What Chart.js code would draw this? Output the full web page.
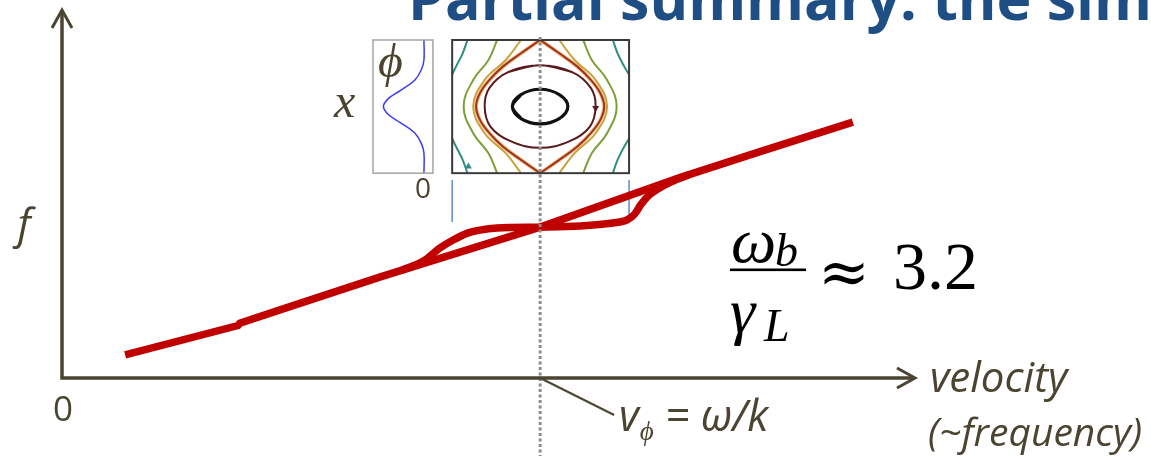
<!DOCTYPE html>
<html>
<head>
<meta charset="utf-8">
<script src="https://cdn.jsdelivr.net/npm/chart.js@4.4.1/dist/chart.umd.min.js"></script>
<style>
  html, body { margin: 0; padding: 0; background: #fff; }
  #wrap { width: 1151px; height: 456px; position: relative; }
</style>
</head>
<body>
<div id="wrap"><canvas id="dist"></canvas></div>
<script>
// f(v) flattened around the phase velocity, with the trapped-orbit inset above it

const V_PHI = 5.0;
const V_MAX = 8.92;
const F_MAX = 12.27;
const TRAP = [4.08, 5.93];        // trapping width in v (inset box edges)
const INSET_F = [6.83, 11.27];    // inset box bottom/top on the f axis
const PHI_BOX = [-1.245, 0.22];   // potential box, phi units

// main distribution: straight slope and the plateau branch
const lineV = [0.66, 1.84, 1.86, 2.28, 3.33, 5.00, 6.46, 7.30, 8.27];
const lineF = [0.77, 1.75, 1.83, 2.27, 3.37, 5.03, 6.68, 7.55, 8.53];
const plateauV = [3.55, 3.78, 3.95, 4.09, 4.24, 4.37, 4.55, 5.00, 5.42, 5.76, 5.91, 5.99, 6.05, 6.13, 6.23, 6.36, 6.55];
const plateauF = [3.59, 3.90, 4.33, 4.60, 4.83, 4.93, 5.00, 5.03, 5.07, 5.17, 5.27, 5.47, 5.77, 6.07, 6.30, 6.52, 6.77];

// potential phi(x) over one wavelength
const phiVals = [0, 0, -0.06, -0.22, -0.58, -0.87, -0.99, -0.87, -0.58, -0.22, -0.06, 0, 0];
const phiPos = [1.0, 0.85, 0.78, 0.70, 0.62, 0.56, 0.50, 0.44, 0.38, 0.30, 0.22, 0.15, 0.0];

// phase-space orbits (v, position)
const deepV = [4.80, 4.71, 4.80, 5.00, 5.20, 5.29, 5.20, 5.00, 4.80, 4.71, 4.80];
const deepP = [0.41, 0.50, 0.59, 0.63, 0.59, 0.50, 0.41, 0.37, 0.41, 0.50, 0.59];
const trapV = [4.67, 5.00, 5.33, 5.53, 5.58, 5.52, 5.31, 5.00, 4.69, 4.48, 4.42, 4.47, 4.67, 5.00, 5.33];
const trapP = [0.76, 0.81, 0.76, 0.64, 0.50, 0.35, 0.24, 0.19, 0.24, 0.35, 0.50, 0.64, 0.76, 0.81, 0.76];
const sepP = [1.0, 0.9, 0.8, 0.7, 0.6, 0.5, 0.4, 0.3, 0.2, 0.1, 0.0];
const sepRightV = [5.00, 5.20, 5.39, 5.53, 5.63, 5.67, 5.63, 5.53, 5.39, 5.20, 5.00];
const sepLeftV = [5.00, 4.80, 4.61, 4.47, 4.37, 4.33, 4.37, 4.47, 4.61, 4.80, 5.00];
const passP = [1.0, 0.85, 0.7, 0.5, 0.3, 0.15, 0.0];
const nearLeftV = [4.80, 4.64, 4.42, 4.30, 4.42, 4.64, 4.80];
const nearRightV = [5.20, 5.36, 5.58, 5.70, 5.58, 5.36, 5.20];
const midLeftV = [4.55, 4.46, 4.30, 4.20, 4.30, 4.46, 4.55];
const midRightV = [5.45, 5.54, 5.70, 5.80, 5.70, 5.54, 5.45];
const farTopP = [1.0, 0.9, 0.8, 0.74];
const farBotP = [0.26, 0.2, 0.1, 0.0];
const farLeftTopV = [4.24, 4.19, 4.12, 4.08];
const farLeftBotV = [4.08, 4.12, 4.19, 4.24];
const farRightTopV = [5.76, 5.81, 5.88, 5.93];
const farRightBotV = [5.93, 5.88, 5.81, 5.76];

const pts = (xs, ys) => xs.map((v, i) => ({ x: v, y: ys[i] }));

function orbit(xs, ys, color, width) {
  return {
    data: pts(xs, ys), showLine: true, borderColor: color, borderWidth: width,
    yAxisID: 'yPos', pointRadius: 0, tension: 0.4
  };
}

const teal = '#2f8c80', green = '#7d9f38', amber = '#c9a23c';

// first dataset ends up on top
const datasets = [
  { data: pts(lineV, lineF), showLine: true, borderColor: '#c00000', borderWidth: 7.5,
    pointRadius: 0, tension: 0, borderCapStyle: 'butt' },
  { data: pts(plateauV, plateauF), showLine: true, borderColor: '#c00000', borderWidth: 7.5,
    pointRadius: 0, cubicInterpolationMode: 'monotone', borderCapStyle: 'butt' },
  { data: [{ x: TRAP[0], y: 6.6 }, { x: TRAP[0], y: 5.2 }], showLine: true,
    borderColor: '#5b8ccc', borderWidth: 1.5, pointRadius: 0 },
  { data: [{ x: TRAP[1], y: 6.6 }, { x: TRAP[1], y: 5.43 }], showLine: true,
    borderColor: '#5b8ccc', borderWidth: 1.5, pointRadius: 0 },
  { data: pts(phiVals, phiPos), showLine: true, borderColor: '#3b3bf2', borderWidth: 1.5,
    xAxisID: 'xPhi', yAxisID: 'yPos', pointRadius: 0, tension: 0.4 },
  { data: [{ x: 5.58, y: 0.49 }], yAxisID: 'yPos', pointStyle: 'triangle', rotation: 180,
    pointRadius: 4, backgroundColor: '#5a1a1c', borderWidth: 0 },
  { data: [{ x: 4.25, y: 0.05 }], yAxisID: 'yPos', pointStyle: 'triangle', rotation: 0,
    pointRadius: 4, backgroundColor: teal, borderWidth: 0 },
  orbit(deepV, deepP, '#111111', 3.2),
  orbit(trapV, trapP, '#5a1a1c', 2),
  orbit(sepRightV, sepP, '#a3321a', 2),
  orbit(sepLeftV, sepP, '#a3321a', 2),
  orbit(sepRightV, sepP, 'rgba(222,150,60,0.6)', 4),
  orbit(sepLeftV, sepP, 'rgba(222,150,60,0.6)', 4),
  orbit(nearLeftV, passP, amber, 2),
  orbit(nearRightV, passP, amber, 2),
  orbit(midLeftV, passP, green, 2),
  orbit(midRightV, passP, green, 2),
  orbit(farLeftTopV, farTopP, teal, 2),
  orbit(farLeftBotV, farBotP, teal, 2),
  orbit(farRightTopV, farTopP, teal, 2),
  orbit(farRightBotV, farBotP, teal, 2)
];

// scale ranges that put the inset in place over the main axes
const fSpan = INSET_F[1] - INSET_F[0];
const posMin = -INSET_F[0] / fSpan;
const posMax = (F_MAX - INSET_F[0]) / fSpan;
const phiZeroV = 3.785, phiUnitV = 0.428;
const phiMin = -phiZeroV / phiUnitV;
const phiMax = (V_MAX - phiZeroV) / phiUnitV;

const ink = '#4a4431';
const serif = '"Liberation Serif", "DejaVu Serif"';

const annotate = {
  id: 'annotate',
  afterDatasetsDraw(chart) {
    const { ctx, chartArea: area } = chart;
    const { x, y, xPhi, yPos } = chart.scales;
    ctx.save();

    // inset frames
    const top = yPos.getPixelForValue(1), bot = yPos.getPixelForValue(0);
    const pl = xPhi.getPixelForValue(PHI_BOX[0]), pr = xPhi.getPixelForValue(PHI_BOX[1]);
    ctx.lineWidth = 1.5; ctx.strokeStyle = '#a4a4a4';
    ctx.strokeRect(pl, top, pr - pl, bot - top);
    const bl = x.getPixelForValue(TRAP[0]), br = x.getPixelForValue(TRAP[1]);
    ctx.lineWidth = 2; ctx.strokeStyle = '#3a3a3a';
    ctx.strokeRect(bl, top, br - bl, bot - top);

    // dotted marker at the phase velocity
    const xp = x.getPixelForValue(V_PHI);
    ctx.setLineDash([3, 2.5]); ctx.lineWidth = 3; ctx.strokeStyle = '#8c8c8c';
    ctx.beginPath(); ctx.moveTo(xp, top - 3); ctx.lineTo(xp, chart.height); ctx.stroke();
    ctx.setLineDash([]);

    // axes with open arrow heads
    const x0 = x.getPixelForValue(0), y0 = y.getPixelForValue(0);
    ctx.strokeStyle = ink; ctx.lineWidth = 3.5;
    ctx.beginPath();
    ctx.moveTo(x0, area.top + 1); ctx.lineTo(x0, y0 + 1.7);
    ctx.moveTo(x0 - 1.7, y0); ctx.lineTo(area.right - 1, y0);
    ctx.stroke();
    ctx.lineWidth = 3;
    ctx.beginPath();
    ctx.moveTo(x0 - 10, area.top + 18); ctx.lineTo(x0, area.top); ctx.lineTo(x0 + 10, area.top + 18);
    ctx.moveTo(area.right - 18, y0 - 10); ctx.lineTo(area.right, y0); ctx.lineTo(area.right - 18, y0 + 10);
    ctx.stroke();

    // leader to the v_phi label
    ctx.lineWidth = 2;
    ctx.beginPath(); ctx.moveTo(xp, y0); ctx.lineTo(xp + 74, y0 + 37); ctx.stroke();

    // title
    ctx.fillStyle = '#1f4e85';
    ctx.font = 'bold 59px "Open Sans"';
    ctx.textAlign = 'left'; ctx.textBaseline = 'alphabetic';
    ctx.fillText('Partial summary: the simulation', 408, 20);

    // axis labels
    ctx.fillStyle = ink;
    ctx.textAlign = 'center';
    ctx.font = '35px "Open Sans"';
    ctx.fillText('0', x0 + 1, 421);
    ctx.font = 'italic 42px "Open Sans"';
    ctx.fillText('f', 24, 239);
    ctx.textAlign = 'left';
    ctx.font = 'italic 42px "Open Sans"';
    ctx.fillText('velocity', 930, 392);
    ctx.font = 'italic 39px "Open Sans"';
    ctx.fillText('(~frequency)', 928, 446);

    // v_phi = omega/k
    let tx = 619;
    ctx.font = 'italic 43px "Open Sans"';
    ctx.fillText('v', tx, 431);
    tx += ctx.measureText('v').width + 1;
    ctx.font = 'italic 27px "Open Sans"';
    ctx.fillText('\u03d5', tx, 440);
    tx += ctx.measureText('\u03d5').width;
    ctx.font = 'italic 43px "Open Sans"';
    ctx.fillText(' = \u03c9/k', tx, 431);

    // inset labels
    ctx.font = 'italic 48px ' + serif;
    ctx.fillText('\u03d5', 378, 77);
    ctx.fillText('x', 334, 117);
    ctx.font = '28px "Open Sans"';
    ctx.textAlign = 'center';
    ctx.fillText('0', 423, 198);

    // omega_b / gamma_L ~ 3.2
    ctx.fillStyle = '#000';
    ctx.textAlign = 'left';
    ctx.font = 'italic 64px ' + serif;
    ctx.fillText('\u03c9', 731, 262);
    ctx.fillText('\u03b3', 730, 332);
    ctx.font = 'italic 46px ' + serif;
    ctx.fillText('b', 775, 266);
    ctx.fillText('L', 764, 341);
    ctx.fillRect(730, 268.5, 76, 2.6);
    ctx.font = '62px "DejaVu Serif"';
    ctx.fillText('\u2248', 818, 293);
    ctx.font = '68px ' + serif;
    ctx.fillText('3.2', 893, 289);

    ctx.restore();
  }
};

new Chart(document.getElementById('dist'), {
  type: 'scatter',
  data: { datasets: datasets },
  options: {
    responsive: true,
    maintainAspectRatio: false,
    animation: false,
    events: [],
    layout: { padding: { left: 62, top: 10, right: 236, bottom: 78 } },
    plugins: { legend: { display: false }, tooltip: { enabled: false } },
    elements: { point: { radius: 0 } },
    scales: {
      x: { type: 'linear', display: false, min: 0, max: V_MAX },
      y: { type: 'linear', display: false, min: 0, max: F_MAX },
      xPhi: { type: 'linear', axis: 'x', display: false, min: phiMin, max: phiMax },
      yPos: { type: 'linear', axis: 'y', display: false, min: posMin, max: posMax }
    }
  },
  plugins: [annotate]
});
</script>
</body>
</html>
